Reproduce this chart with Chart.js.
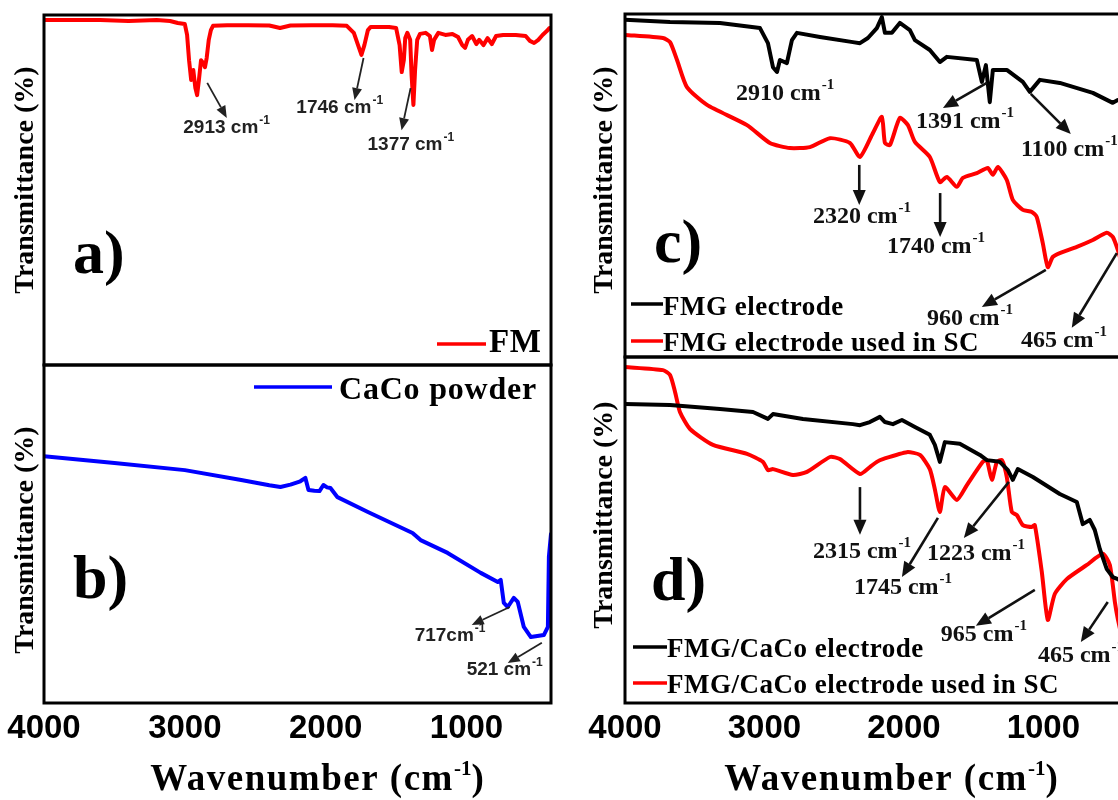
<!DOCTYPE html>
<html>
<head>
<meta charset="utf-8">
<script src="https://cdn.jsdelivr.net/npm/chart.js@4.4.0/dist/chart.umd.min.js"></script>
<style>
  html, body { margin: 0; padding: 0; background: #fff; }
  body { width: 1118px; height: 800px; overflow: hidden; position: relative; }
  canvas { position: absolute; }
</style>
</head>
<body>
<canvas id="panelA" width="560" height="370" style="left:0px;top:0px"></canvas>
<canvas id="panelB" width="560" height="440" style="left:0px;top:360px"></canvas>
<canvas id="panelC" width="570" height="362" style="left:570px;top:0px"></canvas>
<canvas id="panelD" width="570" height="448" style="left:570px;top:352px"></canvas>
<script>
// wavenumber ticks shared by both bottom axes
const tickValues = [4000, 3000, 2000, 1000];

// a) FM
const fmWn = [4000, 3600, 3400, 3200, 3105, 3050, 3000, 2984, 2970, 2955, 2940, 2925, 2913, 2900, 2885, 2870,
  2857, 2845, 2830, 2815, 2800, 2700, 2550, 2400, 2324, 2250, 2100, 1950, 1850, 1800, 1770, 1746, 1725, 1700,
  1680, 1550, 1500, 1475, 1460, 1445, 1435, 1420, 1400, 1390, 1377, 1365, 1350, 1330, 1290, 1260, 1245, 1230,
  1200, 1150, 1100, 1060, 1030, 1010, 990, 960, 930, 910, 880, 850, 820, 790, 740, 650, 580, 550, 520, 490,
  460, 430, 410, 400];
const fmT = [98.6, 98.6, 98.3, 98.6, 98.3, 97.7, 97.4, 94.3, 87.1, 81.4, 84.3, 79.1, 77.1, 81.4, 87.1, 86.3,
  85.1, 87.7, 92.9, 95.7, 96.9, 97.1, 97.1, 97.0, 96.3, 97.0, 97.1, 97.1, 96.9, 94.9, 91.4, 88.6, 91.4, 95.7,
  96.6, 96.6, 96.3, 91.4, 83.7, 87.1, 93.4, 94.9, 92.9, 82.9, 74.3, 84.3, 92.9, 94.6, 94.9, 94.0, 90.0, 92.9,
  94.9, 94.3, 94.6, 93.7, 91.4, 90.6, 92.9, 94.0, 91.7, 92.9, 91.4, 93.4, 91.7, 94.0, 94.3, 94.3, 94.0, 92.6,
  92.0, 92.9, 94.3, 95.4, 96.3, 96.3];

// b) CaCo powder
const cacoWn = [4000, 3500, 3000, 2600, 2400, 2321, 2250, 2180, 2144, 2122, 2080, 2044, 2016, 1990, 1966, 1916,
  1700, 1383, 1326, 1134, 899, 778, 757, 735, 707, 664, 636, 593, 543, 451, 422, 415, 400];
const cacoT = [73.0, 71.0, 68.9, 66.0, 64.4, 63.9, 64.6, 65.6, 66.6, 63.0, 62.8, 62.7, 64.5, 63.8, 63.6, 60.9,
  56.5, 50.3, 48.2, 44.4, 38.5, 35.8, 36.4, 29.6, 28.4, 31.1, 29.9, 22.5, 19.5, 20.1, 22.5, 43.2, 50.0];

// c) FMG electrode
const fmgWn = [4000, 3677, 3319, 3032, 2975, 2939, 2910, 2889, 2839, 2803, 2767, 2602, 2366, 2315, 2258, 2194,
  2158, 2136, 2086, 2029, 1957, 1921, 1814, 1742, 1692, 1477, 1441, 1412, 1384, 1362, 1262, 1147, 1097, 1025,
  882, 645, 502, 466, 430, 400];
const fmgT = [98.3, 97.7, 97.4, 95.9, 91.5, 84.5, 83.1, 86.6, 85.7, 92.4, 94.5, 93.3, 91.8, 91.5, 93.0, 95.9,
  99.1, 94.5, 94.5, 97.4, 95.3, 92.4, 89.5, 86.0, 87.5, 86.6, 80.2, 85.1, 74.3, 83.7, 83.7, 80.2, 77.3, 80.8,
  79.9, 77.0, 74.1, 74.9, 75.5, 75.0];

// c) FMG electrode used in SC
const fmgScWn = [4000, 3728, 3677, 3627, 3556, 3412, 3125, 2961, 2817, 2674, 2530, 2387, 2315, 2222, 2158, 2136,
  2100, 2029, 1971, 1921, 1814, 1742, 1692, 1620, 1577, 1477, 1398, 1362, 1326, 1262, 1219, 1147, 1082, 1047,
  1004, 968, 932, 882, 760, 645, 545, 502, 466, 430, 400];
const fmgScT = [93.9, 93.0, 91.8, 86.6, 78.7, 73.5, 67.6, 62.4, 60.9, 61.2, 63.8, 62.4, 58.3, 65.3, 70.0, 62.4,
  61.8, 69.7, 67.6, 62.7, 58.3, 51.0, 52.5, 49.6, 52.2, 53.6, 55.1, 53.1, 55.4, 51.6, 45.8, 42.9, 42.3, 40.8,
  33.2, 26.2, 29.2, 30.3, 32.1, 34.1, 36.2, 35.0, 31.2, 26.0, 22.0];

// d) FMG/CaCo electrode
const fmgCacoWn = [4000, 3677, 3319, 3082, 2975, 2939, 2724, 2366, 2315, 2244, 2172, 2136, 2079, 2014, 1921, 1814,
  1778, 1742, 1706, 1599, 1455, 1405, 1312, 1254, 1219, 1183, 1075, 882, 760, 717, 667, 631, 595, 545, 502, 466,
  430, 400];
const fmgCacoT = [86.4, 86.1, 85.0, 84.1, 82.1, 83.5, 82.1, 80.6, 80.3, 81.2, 82.7, 81.2, 80.6, 81.8, 79.8, 77.5,
  74.6, 69.7, 75.4, 74.9, 71.7, 70.2, 69.7, 67.3, 64.5, 67.6, 65.3, 60.4, 58.1, 51.7, 52.9, 50.0, 44.5, 38.7,
  36.4, 35.8, 35.0, 34.5];

// d) FMG/CaCo electrode used in SC
const fmgCacoScWn = [4000, 3728, 3677, 3641, 3606, 3534, 3369, 3125, 3011, 2975, 2939, 2796, 2695, 2530, 2459,
  2315, 2244, 2194, 2151, 1978, 1885, 1814, 1778, 1742, 1706, 1620, 1548, 1434, 1405, 1369, 1333, 1297, 1262,
  1226, 1190, 1147, 1082, 1061, 1011, 968, 918, 832, 688, 573, 523, 487, 466, 430, 400];
const fmgCacoScT = [97.1, 96.2, 94.8, 89.9, 84.1, 79.2, 74.6, 72.0, 69.7, 67.3, 67.6, 65.9, 66.8, 71.1, 70.5,
  66.2, 68.2, 69.7, 70.5, 72.5, 71.7, 67.6, 61.8, 55.2, 62.4, 58.7, 63.0, 69.7, 70.2, 64.5, 69.7, 70.2, 65.3,
  55.2, 54.3, 51.4, 50.9, 51.4, 37.9, 24.0, 31.5, 35.8, 39.9, 43.1, 39.9, 29.2, 24.3, 18.0, 14.0];

const RED = '#ff0000';
const BLUE = '#0000ff';
const BLACK = '#000000';
const SERIF = '"Liberation Serif", "Times New Roman", serif';
const SANS = '"Liberation Sans", Arial, sans-serif';

// draws a row of text pieces (base text, superscript, ...) starting at x on baseline y
function measureParts(ctx, parts) {
  let w = 0;
  for (const p of parts) {
    ctx.font = p.font;
    ctx.letterSpacing = (p.spacing || 0) + 'px';
    w += ctx.measureText(p.t).width + (p.gap || 0);
  }
  ctx.letterSpacing = '0px';
  return w;
}

function drawParts(ctx, x, y, parts) {
  let cx = x;
  for (const p of parts) {
    ctx.font = p.font;
    ctx.letterSpacing = (p.spacing || 0) + 'px';
    cx += p.gap || 0;
    ctx.fillText(p.t, cx, y - (p.rise || 0));
    cx += ctx.measureText(p.t).width;
  }
  ctx.letterSpacing = '0px';
}

function drawArrow(ctx, x0, y0, x1, y1, style) {
  const ang = Math.atan2(y1 - y0, x1 - x0);
  const len = style.head;
  const bx = x1 - Math.cos(ang) * len;
  const by = y1 - Math.sin(ang) * len;
  ctx.lineWidth = style.lineWidth;
  ctx.beginPath();
  ctx.moveTo(x0, y0);
  ctx.lineTo(bx, by);
  ctx.stroke();
  ctx.beginPath();
  ctx.moveTo(x1, y1);
  ctx.lineTo(bx + Math.sin(ang) * style.half, by - Math.cos(ang) * style.half);
  ctx.lineTo(bx - Math.sin(ang) * style.half, by + Math.cos(ang) * style.half);
  ctx.closePath();
  ctx.fill();
}

// frame, panel tag, legend, peak notes and axis titles
const figurePlugin = {
  id: 'figure',
  afterDatasetsDraw(chart, args, o) {
    const { ctx, chartArea: a } = chart;
    const xs = chart.scales.x, ys = chart.scales.y;
    ctx.save();
    ctx.fillStyle = BLACK;
    ctx.strokeStyle = BLACK;
    ctx.textBaseline = 'alphabetic';
    ctx.textAlign = 'left';

    ctx.lineWidth = 3;
    ctx.strokeRect(a.left, a.top, a.right - a.left, a.bottom - a.top);

    // panel tag
    ctx.font = 'bold 62px ' + SERIF;
    ctx.fillText(o.tag.text, o.tag.x, o.tag.y);

    // legend
    for (const item of o.legend.items) {
      ctx.strokeStyle = item.color;
      ctx.lineWidth = 3.5;
      ctx.beginPath();
      ctx.moveTo(o.legend.line[0], item.y);
      ctx.lineTo(o.legend.line[1], item.y);
      ctx.stroke();
      ctx.fillStyle = BLACK;
      drawParts(ctx, o.legend.textX, item.baseline, [{ t: item.label, font: o.legend.font, spacing: o.legend.spacing }]);
    }

    // peak notes
    const ns = o.noteStyle;
    ctx.fillStyle = ns.color;
    ctx.strokeStyle = ns.color;
    for (const n of o.notes) {
      if (n.from) {
        drawArrow(ctx, xs.getPixelForValue(n.from[0]), ys.getPixelForValue(n.from[1]),
          xs.getPixelForValue(n.to[0]), ys.getPixelForValue(n.to[1]), ns);
      }
      drawParts(ctx, xs.getPixelForValue(n.label[0]), ys.getPixelForValue(n.label[1]), [
        { t: n.text, font: ns.font },
        { t: '-1', font: ns.supFont, rise: ns.rise, gap: 1 }
      ]);
    }

    // y title
    ctx.fillStyle = BLACK;
    ctx.save();
    ctx.translate(o.yTitle.x, o.yTitle.y);
    ctx.rotate(-Math.PI / 2);
    ctx.textAlign = 'center';
    ctx.textBaseline = 'middle';
    ctx.font = 'bold 28px ' + SERIF;
    ctx.fillText('Transmittance (%)', 0, 0);
    ctx.restore();

    // x title with superscript
    if (o.xTitle) {
      const parts = [
        { t: 'Wavenumber (cm', font: 'bold 37px ' + SERIF, spacing: 1.5 },
        { t: '-1', font: 'bold 21px ' + SERIF, rise: 15 },
        { t: ')', font: 'bold 37px ' + SERIF }
      ];
      const w = measureParts(ctx, parts);
      drawParts(ctx, o.xTitle.x - w / 2, o.xTitle.y, parts);
    }
    ctx.restore();
  }
};

const sansNotes = { font: 'bold 19px ' + SANS, supFont: 'bold 12px ' + SANS, rise: 9, color: '#222',
  lineWidth: 1.8, head: 12, half: 5 };
const serifNotes = { font: 'bold 24px ' + SERIF, supFont: 'bold 15px ' + SERIF, rise: 11, color: '#111',
  lineWidth: 2.6, head: 15, half: 6.5 };

function points(wn, t) {
  return wn.map((w, i) => ({ x: w, y: t[i] }));
}

function makePanel(id, series, pad, axisHeight, fig) {
  return new Chart(document.getElementById(id), {
    type: 'line',
    data: {
      datasets: series.map(s => ({
        data: points(s.wn, s.t),
        borderColor: s.color,
        borderWidth: s.width,
        borderJoinStyle: 'round',
        borderCapStyle: 'round',
        pointRadius: 0,
        tension: s.smooth || 0,
        fill: false
      }))
    },
    options: {
      responsive: false,
      animation: false,
      events: [],
      layout: { padding: pad },
      plugins: { legend: { display: false }, tooltip: { enabled: false }, figure: fig },
      scales: {
        x: {
          type: 'linear', min: 400, max: 4000, reverse: true,
          display: axisHeight > 0,
          grid: { display: false, drawTicks: false },
          border: { display: false },
          afterBuildTicks: s => { s.ticks = tickValues.map(v => ({ value: v })); },
          afterFit: s => { if (axisHeight) s.height = axisHeight; },
          ticks: {
            padding: 6, color: BLACK, autoSkip: false, maxRotation: 0,
            font: { family: SANS, size: 33, weight: 'bold', lineHeight: 1.2 },
            callback: v => String(v)
          }
        },
        y: { type: 'linear', min: 0, max: 100, display: false }
      }
    },
    plugins: [figurePlugin]
  });
}

makePanel('panelA', [{ wn: fmWn, t: fmT, color: RED, width: 4 }],
  { left: 44, right: 9, top: 15, bottom: 5 }, 0, {
    tag: { text: 'a)', x: 73, y: 273 },
    legend: { line: [437, 486], textX: 489, font: 'bold 33px ' + SERIF, spacing: 0.5,
      items: [{ label: 'FM', color: RED, y: 344, baseline: 352 }] },
    noteStyle: sansNotes,
    notes: [
      { text: '2913 cm', label: [3011, 66.3], from: [2841, 80.6], to: [2702, 70.6] },
      { text: '1746 cm', label: [2208, 72.0], from: [1731, 87.7], to: [1795, 75.7] },
      { text: '1377 cm', label: [1703, 61.4], from: [1397, 79.1], to: [1461, 67.1] }
    ],
    yTitle: { x: 26, y: 180 }
  });

makePanel('panelB', [{ wn: cacoWn, t: cacoT, color: BLUE, width: 4 }],
  { left: 44, right: 9, top: 5, bottom: 0 }, 97, {
    tag: { text: 'b)', x: 73, y: 238 },
    legend: { line: [254, 332], textX: 339, font: 'bold 32px ' + SERIF, spacing: 0.8,
      items: [{ label: 'CaCo powder', color: BLUE, y: 27, baseline: 39 }] },
    noteStyle: sansNotes,
    notes: [
      { text: '717cm', label: [1368, 18.3], from: [693, 28.4], to: [963, 23.1] },
      { text: '521 cm', label: [999, 8.3], from: [465, 17.8], to: [707, 11.8] }
    ],
    yTitle: { x: 26, y: 180 },
    xTitle: { x: 317, y: 430 }
  });

makePanel('panelC', [
    { wn: fmgWn, t: fmgT, color: BLACK, width: 4 },
    { wn: fmgScWn, t: fmgScT, color: RED, width: 4, smooth: 0.2 }
  ],
  { left: 55, right: 13, top: 14, bottom: 5 }, 0, {
    tag: { text: 'c)', x: 84, y: 262 },
    legend: { line: [61, 93], textX: 93, font: 'bold 27px ' + SERIF, spacing: 0.5,
      items: [
        { label: 'FMG electrode', color: BLACK, y: 304, baseline: 315 },
        { label: 'FMG electrode used in SC', color: RED, y: 341, baseline: 351 }
      ] },
    noteStyle: serifNotes,
    notes: [
      { text: '2910 cm', label: [3204, 74.9] },
      { text: '1391 cm', label: [1914, 66.8], from: [1405, 79.9], to: [1720, 72.6] },
      { text: '1100 cm', label: [1161, 58.6], from: [1090, 76.7], to: [803, 65.0] },
      { text: '2320 cm', label: [2652, 39.1], from: [2320, 56.0], to: [2320, 44.3] },
      { text: '1740 cm', label: [2122, 30.3], from: [1740, 47.8], to: [1740, 35.0] },
      { text: '960 cm', label: [1835, 9.3], from: [982, 25.4], to: [1441, 14.6] },
      { text: '465 cm', label: [1161, 2.9], from: [473, 30.3], to: [796, 8.5] }
    ],
    yTitle: { x: 35, y: 180 }
  });

makePanel('panelD', [
    { wn: fmgCacoWn, t: fmgCacoT, color: BLACK, width: 4 },
    { wn: fmgCacoScWn, t: fmgCacoScT, color: RED, width: 4, smooth: 0.2 }
  ],
  { left: 55, right: 13, top: 5, bottom: 0 }, 97, {
    tag: { text: 'd)', x: 81, y: 248 },
    legend: { line: [63, 97], textX: 97, font: 'bold 27px ' + SERIF, spacing: 0.5,
      items: [
        { label: 'FMG/CaCo electrode', color: BLACK, y: 295, baseline: 305 },
        { label: 'FMG/CaCo electrode used in SC', color: RED, y: 331, baseline: 341 }
      ] },
    noteStyle: serifNotes,
    notes: [
      { text: '2315 cm', label: [2652, 41.9], from: [2315, 62.4], to: [2315, 48.6] },
      { text: '1745 cm', label: [2358, 31.5], from: [1756, 53.5], to: [2014, 36.4] },
      { text: '1223 cm', label: [1835, 41.3], from: [1247, 63.9], to: [1570, 47.7] },
      { text: '965 cm', label: [1735, 17.9], from: [1061, 32.7], to: [1484, 22.3] },
      { text: '465 cm', label: [1039, 11.8], from: [538, 29.2], to: [731, 17.6] }
    ],
    yTitle: { x: 35, y: 163 },
    xTitle: { x: 321, y: 438 }
  });
</script>
</body>
</html>
